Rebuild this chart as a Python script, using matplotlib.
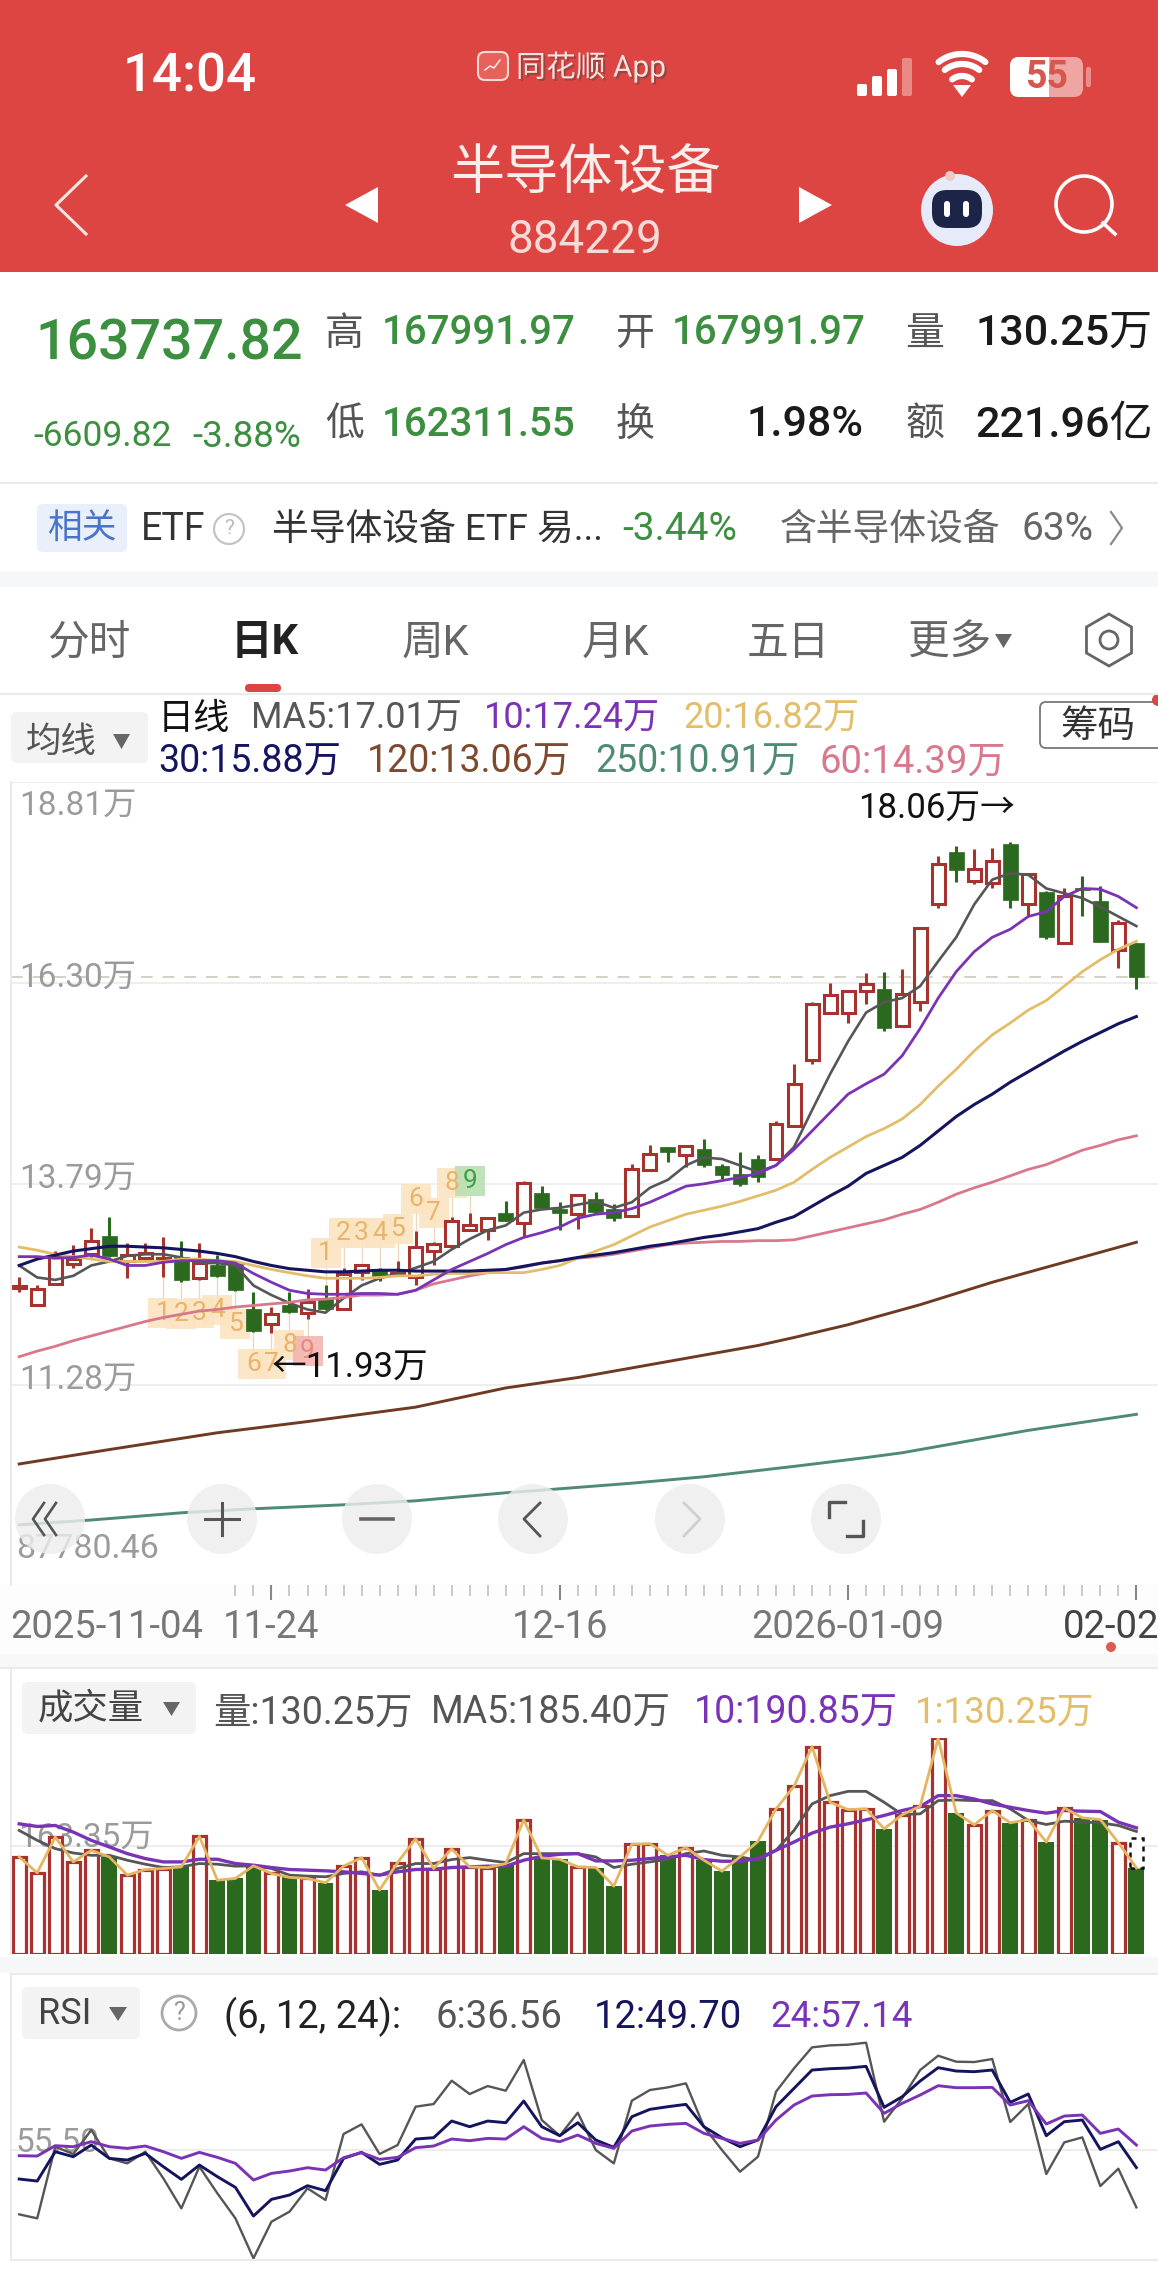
import numpy as np
import matplotlib
matplotlib.use('Agg')
import matplotlib.pyplot as plt
import matplotlib.patheffects as pe
from matplotlib.patches import Rectangle, FancyBboxPatch, Circle, RegularPolygon, Polygon

plt.rcParams['font.family'] = ['Roboto', 'Noto Sans CJK SC', 'DejaVu Sans']

# daily candles, in units of 10k
opens = [12.49, 12.28, 12.54, 12.79, 12.91, 13.14, 12.82, 12.86, 12.82, 12.88, 12.61, 12.77, 12.80, 12.22, 12.04, 12.27,
         12.17, 12.35, 12.22, 12.69, 12.73, 12.65, 12.62, 12.95, 13.01, 13.21, 13.21, 13.42, 13.30, 13.68, 13.48, 13.41,
         13.60, 13.47, 13.39, 13.96, 14.25, 14.15, 14.22, 14.01, 13.91, 14.10, 14.10, 14.51, 15.34, 15.92, 15.93, 16.20,
         16.22, 15.76, 16.06, 17.28, 17.94, 17.57, 17.55, 18.03, 17.28, 17.44, 16.80, 17.48, 17.32, 16.71, 16.80]
highs = [12.63, 12.52, 12.95, 13.03, 13.24, 13.37, 13.05, 13.05, 13.13, 13.08, 13.05, 12.90, 12.82, 12.44, 12.25, 12.44,
         12.47, 12.53, 12.74, 12.78, 12.74, 12.82, 13.20, 13.06, 13.38, 13.42, 13.37, 13.58, 13.83, 13.76, 13.56, 13.66,
         13.69, 13.54, 14.04, 14.27, 14.25, 14.28, 14.35, 14.04, 14.19, 14.15, 14.58, 15.29, 16.06, 16.30, 16.20, 16.43,
         16.44, 16.47, 17.00, 17.89, 18.01, 17.97, 17.98, 18.06, 17.67, 17.45, 17.49, 17.64, 17.51, 17.09, 16.80]
lows = [12.44, 12.26, 12.53, 12.74, 12.87, 12.87, 12.61, 12.83, 12.62, 12.56, 12.59, 12.63, 12.45, 11.94, 11.93, 12.18,
        12.10, 12.21, 12.21, 12.59, 12.58, 12.64, 12.53, 12.77, 12.98, 13.20, 13.09, 13.32, 13.13, 13.48, 13.21, 13.23,
        13.42, 13.32, 13.38, 13.95, 14.06, 14.00, 14.00, 13.85, 13.76, 13.81, 14.09, 14.50, 15.29, 15.91, 15.80, 16.04,
        15.70, 15.75, 15.95, 17.24, 17.56, 17.53, 17.49, 17.24, 17.13, 16.85, 16.78, 17.14, 16.81, 16.49, 16.23]
closes = [12.51, 12.48, 12.87, 12.85, 13.07, 12.89, 12.90, 12.93, 12.86, 12.59, 12.80, 12.64, 12.46, 11.95, 12.16, 12.19,
          12.31, 12.22, 12.66, 12.77, 12.64, 12.68, 13.00, 13.04, 13.33, 13.27, 13.36, 13.33, 13.80, 13.49, 13.42, 13.65,
          13.44, 13.36, 13.97, 14.16, 14.19, 14.26, 14.02, 13.90, 13.79, 13.88, 14.54, 15.04, 16.04, 16.15, 16.20, 16.29,
          15.74, 16.16, 16.99, 17.78, 17.71, 17.72, 17.82, 17.33, 17.66, 16.87, 17.38, 17.46, 16.81, 17.05, 16.37]

ma5 = [12.77, 12.62, 12.59, 12.64, 12.77, 12.82, 12.89, 12.91, 12.91, 12.87, 12.80, 12.80, 12.77, 12.52, 12.40, 12.30,
       12.22, 12.18, 12.36, 12.52, 12.61, 12.67, 12.74, 12.82, 12.97, 13.10, 13.21, 13.27, 13.43, 13.47, 13.49, 13.53,
       13.57, 13.49, 13.56, 13.74, 13.84, 14.02, 14.12, 14.10, 14.02, 13.94, 14.02, 14.25, 14.71, 15.16, 15.57, 15.93,
       16.06, 16.11, 16.26, 16.57, 16.87, 17.28, 17.59, 17.67, 17.65, 17.48, 17.42, 17.36, 17.25, 17.13, 17.01]
ma10 = [12.88, 12.88, 12.86, 12.87, 12.90, 12.85, 12.77, 12.77, 12.81, 12.83, 12.83, 12.83, 12.80, 12.67, 12.56, 12.46,
        12.42, 12.41, 12.41, 12.42, 12.42, 12.41, 12.46, 12.59, 12.72, 12.82, 12.92, 13.03, 13.12, 13.18, 13.25, 13.36,
        13.41, 13.43, 13.48, 13.56, 13.66, 13.76, 13.79, 13.83, 13.87, 13.92, 14.02, 14.22, 14.45, 14.68, 14.91, 15.04,
        15.16, 15.39, 15.73, 16.11, 16.44, 16.69, 16.87, 16.97, 17.13, 17.19, 17.38, 17.48, 17.47, 17.38, 17.24]
ma20 = [13.00, 12.96, 12.91, 12.88, 12.85, 12.82, 12.82, 12.82, 12.82, 12.85, 12.85, 12.83, 12.82, 12.77, 12.72, 12.68,
        12.64, 12.61, 12.61, 12.61, 12.62, 12.64, 12.64, 12.66, 12.67, 12.67, 12.68, 12.68, 12.68, 12.72, 12.77, 12.86,
        12.95, 13.03, 13.14, 13.25, 13.33, 13.41, 13.46, 13.51, 13.57, 13.64, 13.71, 13.81, 13.97, 14.12, 14.25, 14.38,
        14.48, 14.60, 14.78, 15.01, 15.22, 15.45, 15.65, 15.80, 15.96, 16.08, 16.26, 16.44, 16.59, 16.72, 16.82]
ma30 = [12.77, 12.85, 12.90, 12.95, 12.98, 13.01, 13.01, 13.00, 12.99, 12.97, 12.95, 12.92, 12.88, 12.82, 12.77, 12.73,
        12.71, 12.69, 12.69, 12.70, 12.71, 12.71, 12.70, 12.70, 12.70, 12.70, 12.71, 12.72, 12.76, 12.80, 12.83, 12.87,
        12.90, 12.93, 12.97, 13.01, 13.04, 13.08, 13.12, 13.15, 13.19, 13.23, 13.31, 13.38, 13.51, 13.64, 13.76, 13.92,
        14.02, 14.12, 14.27, 14.45, 14.63, 14.78, 14.91, 15.06, 15.19, 15.32, 15.45, 15.57, 15.68, 15.79, 15.88]
ma60 = [11.63, 11.70, 11.76, 11.83, 11.89, 11.95, 12.01, 12.07, 12.12, 12.16, 12.20, 12.22, 12.25, 12.27, 12.29, 12.31,
        12.34, 12.35, 12.37, 12.40, 12.40, 12.41, 12.46, 12.54, 12.59, 12.64, 12.68, 12.72, 12.75, 12.80, 12.83, 12.86,
        12.88, 12.91, 12.95, 12.99, 13.03, 13.05, 13.06, 13.07, 13.07, 13.08, 13.08, 13.09, 13.14, 13.19, 13.24, 13.29,
        13.34, 13.41, 13.47, 13.56, 13.66, 13.74, 13.81, 13.89, 13.97, 14.03, 14.12, 14.21, 14.27, 14.34, 14.39]
ma120_idx = [0, 5, 11, 16, 22, 27, 31, 36, 41, 43, 46, 50, 54, 58, 62]
ma120 = [10.29, 10.47, 10.68, 10.82, 11.00, 11.24, 11.37, 11.57, 11.77, 11.87, 12.03, 12.28, 12.56, 12.81, 13.06]
ma250_idx = [0, 4, 9, 13, 18, 22, 27, 30, 34, 38, 43, 47, 49, 53, 56, 62]
ma250 = [9.53, 9.59, 9.68, 9.73, 9.78, 9.83, 9.93, 9.98, 10.05, 10.13, 10.26, 10.37, 10.43, 10.59, 10.71, 10.91]

# nine-turn counters: session, height of the tag, digit
down_idx = [8, 9, 10, 11, 12, 13, 14, 15, 16]
down_val = [12.18, 12.16, 12.18, 12.21, 12.04, 11.54, 11.54, 11.78, 11.70]
up_idx = [17, 18, 19, 20, 21, 22, 23, 24, 25]
up_val = [12.93, 13.17, 13.17, 13.17, 13.23, 13.60, 13.43, 13.80, 13.82]

volume = [146.8, 122.8, 176.9, 139.3, 156.8, 146.8, 119.3, 127.8, 129.3, 131.8, 177.9, 111.7, 114.3, 133.3, 121.8, 115.8,
          114.3, 107.7, 132.8, 145.8, 96.7, 138.3, 174.4, 129.3, 158.9, 131.8, 130.8, 136.8, 202.9, 145.3, 143.3, 131.8,
          130.8, 102.7, 165.9, 166.9, 149.3, 160.9, 141.8, 125.3, 146.8, 170.4, 219.5, 253.6, 313.7, 229.5, 218.5, 219.5,
          189.4, 210.5, 223.5, 326.2, 213.5, 195.4, 217.0, 198.4, 203.4, 169.4, 221.0, 206.0, 203.4, 168.4, 130.25]
vol_ma5 = [186.9, 171.9, 159.4, 152.8, 149.3, 149.3, 141.8, 135.8, 130.8, 131.8, 136.8, 135.8, 132.8, 133.3, 129.3, 119.3,
           117.8, 116.8, 121.8, 124.3, 119.3, 129.3, 136.8, 136.8, 142.8, 145.8, 141.8, 138.3, 151.8, 151.8, 151.8, 151.8,
           146.8, 130.8, 135.8, 139.3, 143.3, 151.8, 155.8, 149.3, 146.8, 141.8, 156.8, 186.9, 227.0, 239.5, 246.0, 246.0,
           229.5, 211.0, 212.0, 232.0, 233.0, 232.0, 232.0, 219.5, 201.9, 195.9, 200.9, 199.4, 198.4, 194.4, 185.40]
vol_ma10 = [196.9, 192.9, 194.4, 184.4, 171.9, 161.9, 151.8, 144.3, 139.3, 139.3, 143.3, 143.3, 136.8, 134.3, 130.8, 127.8,
            126.8, 125.8, 124.3, 121.8, 119.3, 124.3, 127.8, 128.3, 130.8, 131.8, 132.8, 132.8, 141.8, 147.8, 150.8, 151.8,
            140.8, 140.8, 141.8, 144.3, 146.8, 149.3, 142.8, 140.3, 140.3, 144.3, 156.8, 169.4, 182.9, 191.9, 196.9, 202.9,
            209.5, 217.0, 223.0, 239.5, 239.5, 234.5, 227.0, 222.0, 217.0, 213.0, 217.0, 216.0, 215.5, 199.4, 190.85]
vol_estimate = 175.4

rsi6 = [34.26, 32.94, 56.59, 54.17, 62.09, 52.74, 51.09, 54.94, 46.14, 36.24, 50.00, 41.19, 32.94, 19.74, 31.84, 35.14,
        42.84, 39.00, 60.77, 63.96, 54.17, 57.14, 69.79, 70.67, 78.37, 73.97, 76.61, 75.07, 85.19, 65.39, 60.22, 67.81,
        55.49, 51.09, 71.77, 75.29, 76.17, 77.49, 63.19, 55.49, 48.34, 53.29, 74.74, 82.44, 89.37, 90.03, 90.25, 90.91,
        64.84, 72.54, 81.89, 86.62, 84.64, 84.53, 85.52, 64.73, 70.67, 47.57, 58.02, 59.67, 43.61, 49.33, 36.56]
rsi12 = [45.92, 45.26, 54.94, 53.29, 57.14, 52.74, 52.19, 54.39, 49.99, 45.81, 50.54, 46.69, 43.17, 33.71, 39.21, 40.64,
         43.72, 42.07, 52.74, 54.72, 50.76, 52.19, 59.12, 59.56, 65.06, 63.19, 65.06, 64.51, 71.66, 63.19, 60.22, 64.51,
         58.79, 56.37, 66.49, 68.91, 69.79, 70.56, 63.19, 59.56, 56.59, 58.79, 69.79, 75.84, 81.89, 82.33, 82.55, 83.10,
         69.57, 73.09, 78.26, 82.66, 81.56, 81.34, 81.89, 71.22, 73.97, 60.22, 64.84, 65.39, 55.71, 58.24, 49.70]
rsi24 = [53.62, 53.51, 56.92, 56.59, 58.24, 56.59, 56.04, 56.81, 54.94, 52.74, 54.72, 53.07, 51.09, 45.59, 47.79, 48.56,
         49.66, 48.89, 52.96, 54.61, 52.41, 53.07, 56.26, 56.81, 59.12, 58.57, 59.34, 59.12, 63.19, 59.34, 58.24, 60.44,
         57.69, 56.04, 61.76, 63.41, 63.96, 64.29, 60.99, 59.34, 57.69, 58.79, 65.39, 70.34, 73.31, 73.75, 73.86, 74.30,
         67.59, 70.89, 73.64, 76.72, 76.06, 76.06, 76.17, 70.34, 71.77, 64.07, 66.71, 67.04, 60.99, 62.42, 57.14]

price_grid = [18.81, 16.30, 13.79, 11.28]
date_idx = [14, 30, 46, 62]
date_labels = ['11-24', '12-16', '2026-01-09', '02-02']

W, H = 1158, 2278
RED = '#DC4541'
UP = '#A8322E'
DOWN = '#2B6A1E'
QUOTE = '#3B8F3F'
GREY = '#9B9B9B'
GRID = '#EBEBEB'
C5, C10, C20, C30 = '#565656', '#7A33B5', '#E3BE6A', '#15145F'
C60, C120, C250 = '#D9788C', '#6F3A22', '#4E8B72'

fig = plt.figure(figsize=(W / 100, H / 100), dpi=100, facecolor='white')

# overlay in pixel coordinates for the app chrome
ui = fig.add_axes([0, 0, 1, 1], zorder=5)
ui.set_xlim(0, W)
ui.set_ylim(H, 0)
ui.axis('off')
ui.patch.set_alpha(0)


def panel(top, bottom, ylim):
    ax = fig.add_axes([11 / W, 1 - bottom / H, (W - 11) / W, (bottom - top) / H], zorder=2)
    ax.set_xlim(-0.455, 63.2)
    ax.set_ylim(*ylim)
    ax.axis('off')
    return ax


def label(x, y, s, size, color='#333333', ha='left', weight='normal', **kw):
    return ui.text(x, y, s, fontsize=size, color=color, ha=ha, va='center', fontweight=weight, **kw)


def box(x0, y0, x1, y1, round_px, **kw):
    p = FancyBboxPatch((x0 + round_px, y0 + round_px), x1 - x0 - 2 * round_px, y1 - y0 - 2 * round_px,
                       boxstyle='round,pad=%g,rounding_size=%g' % (round_px, round_px), **kw)
    ui.add_patch(p)
    return p


def arc(cx, cy, r, a0, a1, **kw):
    t = np.radians(np.linspace(a0, a1, 30))
    ui.plot(cx + r * np.cos(t), cy + r * np.sin(t), solid_capstyle='round', **kw)


# header
ui.add_patch(Rectangle((0, 0), W, 272, fc=RED, ec='none'))
label(190, 77, '14:04', 38, 'white', ha='center', weight='medium')
box(478, 52, 508, 80, 7, fc='#E8615B', ec='#F8DAD5', lw=1.5)
ui.plot([485, 490, 494, 500], [70, 66, 68, 60], color='white', lw=1)
label(516, 67, '同花顺 App', 21.5, '#F5E3E0',
      path_effects=[pe.withSimplePatchShadow(offset=(1.5, -1.5), alpha=0.45)])
for bx, bt, col in zip([857, 872, 887, 902], [84, 76, 69, 58], ['white', 'white', 'white', '#E88A85']):
    box(bx, bt, bx + 10, 96, 2, fc=col, ec='none')
for r in [16, 28, 38]:
    arc(962, 92, r, 232, 308, color='white', lw=4.5)
ui.add_patch(Polygon([[962, 97], [953, 85], [971, 85]], fc='white', ec='none'))
box(1010, 57, 1083, 97, 9, fc='#EFA5A1', ec='none')
box(1010, 57, 1049, 97, 9, fc='white', ec='none')
ui.add_patch(Rectangle((1036, 57), 13, 40, fc='white', ec='none'))
box(1086, 67, 1091, 87, 2, fc='#E98E88', ec='none')
label(1047, 78, '55', 27, '#D65650', ha='center', weight='bold')
ui.plot([86, 56, 86], [176, 205, 234], color='#F7E5E2', lw=2.2)
ui.add_patch(Polygon([[378, 187], [345, 205], [378, 223]], fc='white', ec='none'))
ui.add_patch(Polygon([[799, 187], [832, 205], [799, 223]], fc='white', ec='none'))
label(585, 175, '半导体设备', 39, '#FBEDEB', ha='center')
label(585, 240, '884229', 33, '#F6DAD7', ha='center')
ui.add_patch(Circle((957, 210), 36, fc='#E7EAF8', ec='none'))
box(932, 190, 982, 228, 15, fc='#1C2547', ec='none')
box(944, 201, 950, 217, 3, fc='white', ec='none')
box(963, 201, 969, 217, 3, fc='white', ec='none')
ui.add_patch(Circle((950, 176), 5, fc='#F3C9C4', ec='none'))
ui.add_patch(Circle((1084, 204), 28, fc='none', ec='white', lw=2.6))
ui.plot([1103, 1115], [223, 234], color='white', lw=2.6)

# quote block
label(35, 344, '163737.82', 40, QUOTE, weight='medium')
label(33, 437, '-6609.82', 25.5, QUOTE)
label(192, 437, '-3.88%', 26.5, QUOTE)
label(325, 334, '高', 28, '#555555')
label(382, 333, '167991.97', 29, QUOTE, weight='medium')
label(616, 334, '开', 28, '#555555')
label(672, 333, '167991.97', 29, QUOTE, weight='medium')
label(905, 334, '量', 28, '#555555')
label(1153, 333, '130.25万', 31, '#1A1A1A', ha='right', weight='medium')
label(325, 425, '低', 28, '#555555')
label(382, 425, '162311.55', 29, QUOTE, weight='medium')
label(616, 425, '换', 28, '#555555')
label(864, 425, '1.98%', 31, '#1A1A1A', ha='right', weight='medium')
label(905, 425, '额', 28, '#555555')
label(1153, 425, '221.96亿', 31, '#1A1A1A', ha='right', weight='medium')
ui.plot([0, W], [483, 483], color=GRID, lw=1.5)

# related ETF row
box(37, 504, 127, 552, 6, fc='#E9F0FB', ec='none')
label(82, 529, '相关', 25, '#4A74C9', ha='center')
label(141, 530, 'ETF', 27, '#333333')
ui.add_patch(Circle((229, 529), 15, fc='none', ec='#C4C4C4', lw=1.6))
label(229, 529, '?', 15, '#BBBBBB', ha='center')
label(272, 530, '半导体设备 ETF 易...', 26.5, '#333333')
label(622, 530, '-3.44%', 28, QUOTE)
label(780, 530, '含半导体设备', 26.5, '#666666')
label(1021, 530, '63%', 28, '#666666')
ui.plot([1111, 1122, 1111], [512, 528, 544], color='#888888', lw=1.6)
ui.add_patch(Rectangle((0, 571), W, 16, fc='#F6F7F9', ec='none'))

# period tabs
label(47, 643, '分时', 30, '#666666')
label(231, 643, '日K', 30, '#222222', weight='bold')
label(402, 643, '周K', 30, '#666666')
label(582, 643, '月K', 30, '#666666')
label(747, 643, '五日', 30, '#666666')
label(908, 643, '更多', 30, '#666666')
ui.add_patch(Polygon([[995, 634], [1012, 634], [1003.5, 648]], fc='#666666', ec='none'))
ui.add_patch(RegularPolygon((1109, 640), 6, radius=26, fc='none', ec='#666666', lw=2))
ui.add_patch(Circle((1109, 640), 9, fc='none', ec='#666666', lw=2))
box(245, 684, 281, 692, 4, fc=RED, ec='none')
ui.plot([0, W], [694, 694], color=GRID, lw=1.5)

# moving average legend
box(11, 712, 148, 763, 6, fc='#F3F3F3', ec='none')
label(26, 742, '均线', 25.5, '#555555')
ui.add_patch(Polygon([[113, 734], [130, 734], [121.5, 749]], fc='#666666', ec='none'))
label(158, 719, '日线', 26, '#111111')
label(251, 719, 'MA5:17.01万', 26, C5)
label(484, 719, '10:17.24万', 26, C10)
label(683, 719, '20:16.82万', 26, C20)
label(158, 762, '30:15.88万', 27, C30)
label(367, 762, '120:13.06万', 27, '#7D4A2E')
label(595, 762, '250:10.91万', 27, C250)
label(820, 762, '60:14.39万', 27.5, C60)
box(1040, 702, 1175, 748, 6, fc='white', ec='#777777', lw=1.3)
label(1098, 726, '筹码', 27, '#333333', ha='center')
ui.add_patch(Circle((1158, 700), 6, fc=RED, ec='none'))

# candlestick panel
x = np.arange(len(closes))
o, h, l, c = map(np.array, (opens, highs, lows, closes))
rising = c >= o
ax = panel(782, 1585, (8.778, 18.81))
ax.hlines(price_grid, -0.455, 63.2, color=GRID, lw=1.2, zorder=0.5)
ui.plot([11, 11], [782, 1585], color=GRID, lw=1.5)
ax.plot([-0.455, 63.2], [closes[-1], closes[-1]], color='#CFC8B8', lw=1.2, ls=(0, (7, 6)), zorder=0.6)
for v, s in zip(price_grid, ['18.81万', '16.30万', '13.79万', '11.28万']):
    ypx = {18.81: 806, 16.30: 978, 13.79: 1179, 11.28: 1380}[v]
    ax.text(19, ypx, s, fontsize=24, color=GREY, va='center', transform=ui.transData, zorder=0.7)
ax.text(16, 1549, '87780.46', fontsize=24.5, color=GREY, va='center', transform=ui.transData, zorder=0.7)

# nine-turn tags sit behind the candles
for idxs, vals, last_fc, last_tc, anchor in [(down_idx, down_val, '#F3B6B2', '#E58A80', lows),
                                             (up_idx, up_val, '#BADFB2', '#3F9F48', highs)]:
    for n, (i, v) in enumerate(zip(idxs, vals)):
        fc, tc = (last_fc, last_tc) if n == 8 else ('#FBE4C2', '#E9B368')
        ax.vlines(i, v, anchor[i], color='#EBD9BE', lw=1, zorder=0.8)
        ax.scatter([i], [v], s=470, marker='s', color=fc, lw=0, zorder=1, alpha=0.9)
        ax.text(i, v, str(n + 1), fontsize=19, color=tc, ha='center', va='center', zorder=1.1)

ax.vlines(x[rising], l[rising], h[rising], color=UP, lw=2.2, zorder=2)
ax.vlines(x[~rising], l[~rising], h[~rising], color=DOWN, lw=2.2, zorder=2)
ax.bar(x[rising], (c - o)[rising], bottom=o[rising], width=0.72, fc='white', ec=UP, lw=2.2, zorder=2.1)
ax.bar(x[~rising], (o - c)[~rising], bottom=c[~rising], width=0.82, fc=DOWN, ec=DOWN, lw=0.5, zorder=2.1)
ax.plot(x, ma5, color=C5, lw=1.9, zorder=3)
ax.plot(x, ma60, color=C60, lw=2, zorder=3)
ax.plot(x, ma20, color=C20, lw=2, zorder=3.1)
ax.plot(x, ma30, color=C30, lw=2.2, zorder=3.2)
ax.plot(x, ma10, color=C10, lw=2, zorder=3.3)
ax.plot(ma120_idx, ma120, color=C120, lw=2.1, zorder=3)
ax.plot(ma250_idx, ma250, color=C250, lw=2.1, zorder=3)
label(858, 808, '18.06万→', 25, '#111111')
label(272, 1367, '←11.93万', 25, '#111111')

# chart navigation buttons
for bx in [50, 222, 377, 533, 690, 846]:
    ui.add_patch(Circle((bx, 1519), 35, fc='#EDEDED', ec='none', alpha=0.82))
for off in [0, 12]:
    ui.plot([44 + off, 33 + off, 44 + off], [1503, 1519, 1535], color='#555555', lw=1.9)
ui.plot([222, 222], [1503, 1535], color='#555555', lw=2.2)
ui.plot([205, 239], [1519, 1519], color='#555555', lw=2.2)
ui.plot([361, 393], [1519, 1519], color='#666666', lw=2.6)
ui.plot([540, 524, 540], [1503, 1519, 1536], color='#555555', lw=2)
ui.plot([684, 700, 684], [1503, 1519, 1536], color='#CFCFCF', lw=2)
ui.plot([845, 829, 829], [1502, 1502, 1517], color='#555555', lw=2.4)
ui.plot([847, 863, 863], [1536, 1536, 1521], color='#555555', lw=2.4)

# date strip
ui.add_patch(Rectangle((0, 1584), W, 84, fc='#F8F8F8', ec='none', zorder=0))
ui.add_patch(Rectangle((0, 1584), W, 70, fc='#FDFDFD', ec='none', zorder=0.1))
strip = panel(1585, 1600, (1, 0))
strip.set_zorder(6)
strip.vlines(x[12:], 0, 0.7, color='#BBBBBB', lw=1.1)
strip.vlines(date_idx, 0, 1, color='#888888', lw=1.5)
label(10, 1628, '2025-11-04', 27.5, '#777777')
for i, s in zip(date_idx[:3], date_labels[:3]):
    label(19.2 + 18.02 * i, 1628, s, 27.5, '#777777', ha='center')
label(1159, 1628, date_labels[3], 27.5, '#444444', ha='right')
ui.add_patch(Circle((1111, 1647), 5, fc='#DD5A55', ec='none'))
ui.plot([0, W], [1668, 1668], color=GRID, lw=1.5)

# volume panel
box(22, 1682, 196, 1734, 6, fc='#F3F3F3', ec='none')
label(38, 1709, '成交量', 25.5, '#444444')
ui.add_patch(Polygon([[163, 1702], [180, 1702], [171.5, 1716]], fc='#666666', ec='none'))
label(213, 1713, '量:130.25万', 27, '#555555')
label(431, 1713, 'MA5:185.40万', 27, '#555555')
label(694, 1713, '10:190.85万', 27, C10)
label(915, 1713, '1:130.25万', 26.5, C20)
ui.plot([11, 11], [1670, 1954], color=GRID, lw=1.5)

vol = np.array(volume)
vx = panel(1738, 1954, (0, 326.7))
vx.hlines(163.35, -0.455, 63.2, color=GRID, lw=1.3, zorder=0.5)
vx.text(18, 1838, '163.35万', fontsize=24, color=GREY, va='center', transform=ui.transData, zorder=0.7)
vx.bar(x[rising], vol[rising], width=0.72, fc='white', ec=UP, lw=2.3, zorder=2)
vx.bar(x[~rising], vol[~rising], width=0.88, fc=DOWN, ec='none', zorder=2)
vx.bar(x[-1:], [vol_estimate - vol[-1]], bottom=vol[-1:], width=0.72, fc='white', ec='#111111', lw=1.8,
       ls=(0, (2, 2)), zorder=2.1)
vx.plot(x, vol_ma5, color=C5, lw=2, zorder=3)
vx.plot(x, vol_ma10, color=C10, lw=2.4, zorder=3.1)
vx.plot(x, volume, color='#E5B562', lw=2, zorder=3.2)
ui.add_patch(Rectangle((0, 1957), W, 16, fc='#F6F7F9', ec='none'))

# RSI panel
box(22, 1987, 140, 2039, 6, fc='#F3F3F3', ec='none')
label(38, 2014, 'RSI', 26, '#444444')
ui.add_patch(Polygon([[109, 2007], [127, 2007], [118, 2021]], fc='#666666', ec='none'))
ui.add_patch(Circle((179, 2013), 17, fc='none', ec='#AAAAAA', lw=2))
label(179, 2013, '?', 18, '#999999', ha='center')
label(224, 2017, '(6, 12, 24):', 27.5, '#222222')
label(435, 2017, '6:36.56', 27.5, '#555555')
label(594, 2017, '12:49.70', 27.5, C30)
label(770, 2017, '24:57.14', 26.5, C10)
ui.plot([11, 11], [1974, 2260], color=GRID, lw=1.5)
ui.plot([11, W], [1974, 1974], color=GRID, lw=1.5)
ui.plot([11, W], [2260, 2260], color=GRID, lw=1.5)

rx = panel(2040, 2260, (19.2, 91.8))
rx.hlines(55.5, -0.455, 63.2, color=GRID, lw=1.3, zorder=0.5)
rx.text(16, 2143, '55.50', fontsize=24, color=GREY, va='center', transform=ui.transData, zorder=0.7)
rx.plot(x, rsi6, color=C5, lw=1.7, zorder=3)
rx.plot(x, rsi12, color=C30, lw=2.1, zorder=3.1)
rx.plot(x, rsi24, color=C10, lw=2.1, zorder=3.2)

plt.savefig('out.png', dpi=100)
